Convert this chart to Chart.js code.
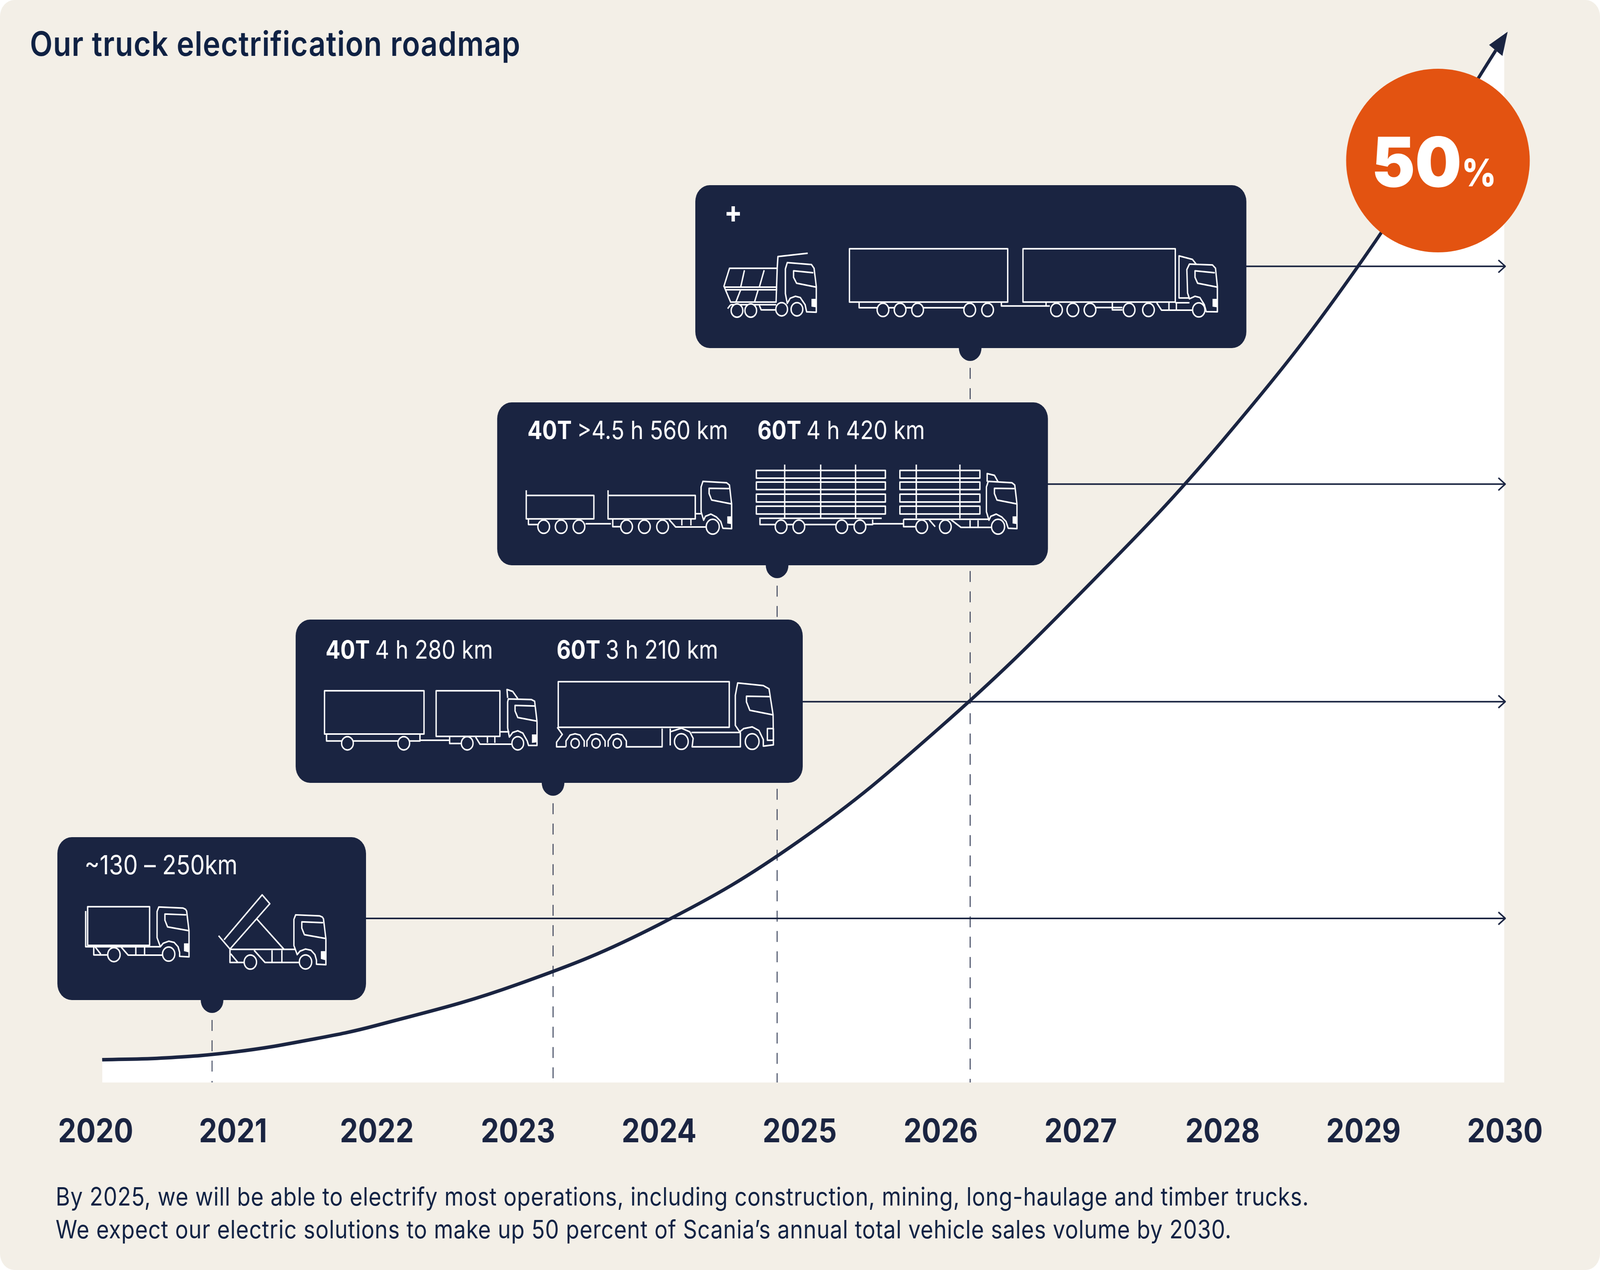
<!DOCTYPE html>
<html>
<head>
<meta charset="utf-8">
<title>Our truck electrification roadmap</title>
<script src="https://cdn.jsdelivr.net/npm/chart.js@4"></script>
<style>
  html, body { margin: 0; background: #ffffff; overflow: hidden; }
  canvas { display: block; }
</style>
</head>
<body>
<!-- drawn at the reference size and fitted to whatever window the page gets -->
<canvas id="roadmap" width="4660" height="3251" style="width:100vw;height:100vh"></canvas>
<script>
// Data
const years = [2020, 2021, 2022, 2023, 2024, 2025, 2026, 2027, 2028, 2029, 2030];
const curveYears = [2020.05, 2020.5, 2021, 2021.5, 2022, 2023, 2024, 2025, 2026, 2027, 2028, 2029, 2029.94];
const curveShare = [1.08, 1.17, 1.46, 2.0, 2.72, 4.67, 7.5, 11.5, 16.9, 23.3, 30.5, 39.15, 49.05];
const milestoneYears = [2020.83, 2023.25, 2024.84, 2026.21];
const milestoneLevels = [7.8, 18.1, 28.44, 38.79];
const badgeText = ['50', '%'];
const titleText = 'Our truck electrification roadmap';
const noteLines = [
  'By 2025, we will be able to electrify most operations, including construction, mining, long-haulage and timber trucks.',
  'We expect our electric solutions to make up 50 percent of Scania\u2019s annual total vehicle sales volume by 2030.'
];
const rangeLabels = [
  [['', '~130 \u2013 250km']],
  [['40T', '4 h 280 km'], ['60T', '3 h 210 km']],
  [['40T', '>4.5 h 560 km'], ['60T', '4 h 420 km']],
  [['+', '']]
];

// Colours
const navy = '#1a2441';
const ink = '#0f2143';
const cream = '#f3efe7';
const orange = '#e35311';
const white = '#ffffff';
const fontFamily = 'Inter, "Noto Sans", sans-serif';

// Card boxes and label anchors, in reference pixels
const cardBoxes = [
  { left: 167, top: 2143, right: 1066, bottom: 2560 },
  { left: 861, top: 1586, right: 2338, bottom: 2004 },
  { left: 1448, top: 1030, right: 3052, bottom: 1447 },
  { left: 2025, top: 474, right: 3630, bottom: 891 }
];
const labelAnchors = [
  [[246, 2238]],
  [[948, 1686], [1621, 1686]],
  [[1536, 1124], [2206, 1124]],
  [[2109, 570]]
];
const labelSizes = [67, 64, 64, 78];

const view = (ox, oy, sx, sy) => ({ ox, oy, sx, sy });
const v4 = view(150, 2120, 1.568, 2.24);
const v3 = view(840, 1580, 1.018, 3);
const v2 = view(1430, 1020, 0.9446, 3);
const v1 = view(2000, 440, 0.922, 3);

function trace(ctx, v, pts, closed, dx = 0, dy = 0) {
  ctx.beginPath();
  for (let i = 0; i < pts.length; i += 2) {
    const x = v.ox + (pts[i] + dx) / v.sx;
    const y = v.oy + (pts[i + 1] + dy) / v.sy;
    if (i === 0) ctx.moveTo(x, y); else ctx.lineTo(x, y);
  }
  if (closed) ctx.closePath();
}
function line(ctx, v, pts, dx, dy) { trace(ctx, v, pts, false, dx, dy); ctx.stroke(); }
function loop(ctx, v, pts, dx, dy) { trace(ctx, v, pts, true, dx, dy); ctx.stroke(); }
function solid(ctx, v, pts, dx, dy) { trace(ctx, v, pts, true, dx, dy); ctx.fill(); }
function box(ctx, v, l, t, r, b) { loop(ctx, v, [l, t, r, t, r, b, l, b]); }
function wheel(ctx, v, x, y, r) {
  ctx.beginPath();
  ctx.arc(v.ox + x / v.sx, v.oy + y / v.sy, r, 0, Math.PI * 2);
  ctx.fillStyle = navy;
  ctx.fill();
  ctx.stroke();
  ctx.fillStyle = white;
}

function shortCab(ctx, dx, dy) {
  loop(ctx, v4, [490, 452, 482, 478, 482, 628, 497, 680, 510, 660, 535, 648, 560, 655, 578, 680, 585, 712, 585, 735, 628, 738, 628, 590, 617, 475, 612, 465, 600, 458], dx, dy);
  line(ctx, v4, [628, 588, 530, 566, 518, 528, 518, 492, 615, 497], dx, dy);
  solid(ctx, v4, [605, 660, 625, 660, 625, 712, 605, 705], dx, dy);
  wheel(ctx, v4, 535 + dx, 722 + dy, 18);
}

function drawCard1Trucks(ctx) {
  // box truck
  box(ctx, v4, 165, 450, 448, 672);
  line(ctx, v4, [156, 475, 156, 680, 495, 680]);
  line(ctx, v4, [505, 728, 350, 728, 318, 682]);
  line(ctx, v4, [385, 682, 385, 728]);
  line(ctx, v4, [425, 682, 425, 728]);
  line(ctx, v4, [193, 682, 193, 727, 258, 727]);
  line(ctx, v4, [200, 682, 225, 722]);
  wheel(ctx, v4, 285, 725, 18);
  shortCab(ctx, 0, 0);
  // tipper
  line(ctx, v4, [815, 695, 1115, 695]);
  line(ctx, v4, [763, 617, 815, 693, 997, 433, 962, 382, 788, 640]);
  line(ctx, v4, [937, 520, 1062, 695]);
  line(ctx, v4, [815, 695, 815, 770, 882, 770]);
  line(ctx, v4, [818, 720, 850, 768]);
  line(ctx, v4, [925, 700, 975, 770, 1135, 770]);
  line(ctx, v4, [1007, 700, 1007, 770]);
  line(ctx, v4, [1052, 700, 1052, 770]);
  wheel(ctx, v4, 908, 768, 18);
  shortCab(ctx, 625, 45);
}

function drawCard2Trucks(ctx) {
  const v = v3;
  // truck and drawbar trailer
  box(ctx, v, 107, 565, 402, 897);
  box(ctx, v, 438, 565, 627, 915);
  line(ctx, v, [113, 900, 113, 950, 390, 950, 390, 900]);
  line(ctx, v, [390, 945, 478, 945]);
  line(ctx, v, [478, 918, 478, 970, 515, 970]);
  line(ctx, v, [555, 920, 568, 975, 665, 975]);
  line(ctx, v, [590, 920, 590, 965]);
  line(ctx, v, [612, 920, 612, 965]);
  line(ctx, v, [627, 880, 655, 880]);
  wheel(ctx, v, 175, 968, 17);
  wheel(ctx, v, 342, 968, 17);
  wheel(ctx, v, 530, 968, 17);
  loop(ctx, v, [652, 628, 720, 632, 730, 645, 737, 800, 737, 985, 712, 985, 708, 950, 695, 890, 680, 872, 665, 885, 655, 920, 650, 850, 650, 650]);
  line(ctx, v, [650, 620, 648, 555, 665, 570, 680, 625]);
  line(ctx, v, [730, 682, 672, 677, 672, 720, 680, 770, 737, 798]);
  solid(ctx, v, [722, 900, 738, 900, 738, 960, 722, 965]);
  wheel(ctx, v, 680, 968, 17);
  // articulated
  box(ctx, v, 800, 495, 1307, 845);
  line(ctx, v, [797, 845, 812, 900, 795, 960, 795, 995, 823, 995]);
  [850, 912, 975].forEach(x => {
    line(ctx, v, [x - 27, 995, x - 27, 950, x - 15, 905, x, 895, x + 15, 905, x + 27, 950, x + 27, 995]);
    wheel(ctx, v, x, 968, 12);
  });
  line(ctx, v, [1000, 995, 1108, 995, 1108, 855]);
  line(ctx, v, [1132, 855, 1132, 985]);
  line(ctx, v, [1132, 880, 1165, 852, 1190, 880, 1200, 930, 1197, 995, 1340, 995, 1340, 885, 1195, 885]);
  wheel(ctx, v, 1165, 955, 20);
  loop(ctx, v, [1332, 505, 1408, 525, 1425, 550, 1437, 750, 1438, 980, 1408, 990, 1408, 940, 1395, 870, 1375, 842, 1350, 855, 1338, 880, 1325, 830, 1325, 600]);
  line(ctx, v, [1427, 610, 1358, 607, 1358, 650, 1368, 715, 1437, 750]);
  loop(ctx, v, [1420, 855, 1438, 855, 1438, 945, 1420, 945]);
  wheel(ctx, v, 1375, 955, 20);
}

function longCab(ctx, dx) {
  const v = v2;
  loop(ctx, v, [583, 637, 648, 647, 656, 665, 662, 810, 662, 1000, 638, 997, 632, 945, 620, 910, 605, 888, 590, 905, 585, 935, 578, 870, 578, 680], dx);
  line(ctx, v, [655, 692, 600, 690, 600, 730, 607, 780, 662, 810], dx);
  solid(ctx, v, [650, 905, 662, 905, 662, 965, 650, 960], dx);
  wheel(ctx, v, 610 + dx, 985, 19);
}

function logRows(ctx, left, right) {
  [[553, 612], [642, 700], [735, 795], [827, 887]].forEach(r => box(ctx, v2, left, r[0], right, r[1]));
}

function drawCard3Trucks(ctx) {
  const v = v2;
  // 40T
  line(ctx, v, [97, 705, 97, 925, 283, 925, 283, 745, 97, 745]);
  line(ctx, v, [322, 705, 322, 925, 562, 925, 562, 745, 322, 745]);
  line(ctx, v, [103, 930, 103, 968, 130, 968]);
  line(ctx, v, [260, 962, 330, 962]);
  line(ctx, v, [335, 930, 335, 985, 360, 985]);
  line(ctx, v, [490, 930, 508, 987, 595, 987]);
  line(ctx, v, [525, 930, 525, 975]);
  line(ctx, v, [550, 930, 550, 975]);
  line(ctx, v, [562, 885, 580, 885]);
  [145, 193, 242, 373, 422, 472].forEach(x => wheel(ctx, v, x, 985, 17));
  longCab(ctx, 0);
  // 60T timber
  logRows(ctx, 730, 1085);
  logRows(ctx, 1125, 1345);
  [808, 907, 1003, 1170, 1290].forEach(x => line(ctx, v, [x, 508, x, 920]));
  line(ctx, v, [738, 920, 1075, 920]);
  line(ctx, v, [740, 925, 740, 968, 1050, 968, 1050, 930]);
  line(ctx, v, [1050, 962, 1135, 962]);
  line(ctx, v, [1135, 928, 1370, 928]);
  line(ctx, v, [1135, 928, 1135, 985, 1168, 985]);
  line(ctx, v, [1205, 930, 1222, 985]);
  line(ctx, v, [1265, 930, 1293, 990, 1380, 990]);
  line(ctx, v, [1318, 935, 1318, 985]);
  line(ctx, v, [1340, 935, 1340, 985]);
  line(ctx, v, [1365, 640, 1365, 577, 1385, 590, 1395, 640]);
  [798, 847, 965, 1015, 1185, 1250].forEach(x => wheel(ctx, v, x, 985, 17));
  longCab(ctx, 785);
}

function drawCard4Trucks(ctx) {
  const v = v1;
  // tipper
  line(ctx, v, [325, 625, 245, 650, 243, 740, 115, 740, 100, 878, 118, 1000, 240, 1000, 243, 740]);
  line(ctx, v, [100, 885, 243, 885]);
  line(ctx, v, [105, 905, 243, 905]);
  line(ctx, v, [155, 755, 145, 885]);
  line(ctx, v, [208, 755, 195, 885]);
  line(ctx, v, [145, 905, 132, 1000]);
  line(ctx, v, [192, 905, 182, 1000]);
  line(ctx, v, [110, 1050, 118, 1020]);
  line(ctx, v, [118, 1020, 240, 1020]);
  line(ctx, v, [195, 1025, 200, 1060, 240, 1060]);
  [[135, 1065], [172, 1065], [255, 1055], [296, 1055]].forEach(p => wheel(ctx, v, p[0], p[1], 17));
  loop(ctx, v, [270, 697, 335, 712, 342, 740, 348, 880, 348, 1078, 322, 1075, 318, 1020, 305, 965, 292, 955, 278, 970, 270, 1010, 265, 935, 265, 745]);
  line(ctx, v, [340, 775, 287, 760, 287, 810, 295, 855, 348, 885]);
  solid(ctx, v, [335, 975, 348, 975, 348, 1040, 335, 1035]);
  // long combination
  box(ctx, v, 437, 590, 862, 1000);
  box(ctx, v, 903, 590, 1312, 1000);
  line(ctx, v, [463, 1005, 463, 1043, 745, 1043]);
  line(ctx, v, [845, 1005, 845, 1030, 965, 1030, 965, 1005]);
  line(ctx, v, [1095, 1042, 1170, 1042]);
  line(ctx, v, [965, 1030, 975, 1030]);
  line(ctx, v, [1143, 1005, 1143, 1060, 1170, 1060]);
  line(ctx, v, [1262, 1005, 1275, 1062, 1358, 1062]);
  line(ctx, v, [1295, 1005, 1295, 1060]);
  line(ctx, v, [1315, 1005, 1315, 1060]);
  line(ctx, v, [1312, 1005, 1350, 1005]);
  [527, 573, 620, 760, 808, 993, 1037, 1083, 1188, 1240].forEach(x => wheel(ctx, v, x, 1060, 17));
  loop(ctx, v, [1350, 708, 1412, 715, 1420, 740, 1425, 880, 1425, 1075, 1395, 1073, 1390, 1020, 1378, 965, 1365, 955, 1350, 975, 1345, 930, 1343, 750]);
  line(ctx, v, [1418, 775, 1365, 760, 1365, 810, 1372, 855, 1425, 885]);
  line(ctx, v, [1368, 708, 1358, 672, 1322, 645, 1322, 968, 1350, 968]);
  solid(ctx, v, [1412, 975, 1425, 975, 1425, 1040, 1412, 1035]);
  wheel(ctx, v, 1375, 1060, 18);
}
const truckDrawers = [drawCard1Trucks, drawCard2Trucks, drawCard3Trucks, drawCard4Trucks];

function drawRun(ctx, parts, x, y, size) {
  ctx.font = '700 ' + size + 'px ' + fontFamily;
  ctx.fillText(parts[0], x, y);
  const cursor = x + (parts[0] ? ctx.measureText(parts[0] + ' ').width : 0);
  ctx.font = '400 ' + size + 'px ' + fontFamily;
  ctx.fillText(parts[1], cursor, y);
}

// Paints the panel behind the chart and all the annotation cards over it
const roadmapArt = {
  id: 'roadmapArt',
  beforeDraw(chart) {
    const ctx = chart.ctx;
    ctx.save();
    ctx.fillStyle = cream;
    ctx.beginPath();
    ctx.roundRect(0, 0, 4660, 3251, 42);
    ctx.fill();
    ctx.restore();
  },
  afterDatasetsDraw(chart) {
    const { ctx, canvas, scales: { x, y } } = chart;
    ctx.save();
    ctx.lineJoin = 'round';

    // small open arrowheads on the level lines
    ctx.strokeStyle = navy;
    ctx.lineWidth = 4;
    milestoneLevels.forEach(level => {
      const tipX = x.getPixelForValue(2030) + 3;
      const tipY = y.getPixelForValue(level);
      ctx.beginPath();
      ctx.moveTo(tipX - 20, tipY - 16);
      ctx.lineTo(tipX, tipY);
      ctx.lineTo(tipX - 20, tipY + 16);
      ctx.stroke();
    });

    // solid arrowhead at the end of the curve
    const n = curveYears.length - 1;
    const endX = x.getPixelForValue(curveYears[n]);
    const endY = y.getPixelForValue(curveShare[n]);
    const angle = Math.atan2(endY - y.getPixelForValue(curveShare[n - 1]), endX - x.getPixelForValue(curveYears[n - 1]));
    const tipX = endX + 59 * Math.cos(angle);
    const tipY = endY + 59 * Math.sin(angle);
    ctx.fillStyle = navy;
    ctx.beginPath();
    ctx.moveTo(tipX, tipY);
    ctx.lineTo(endX + 24 * Math.sin(angle), endY - 24 * Math.cos(angle));
    ctx.lineTo(endX - 24 * Math.sin(angle), endY + 24 * Math.cos(angle));
    ctx.closePath();
    ctx.fill();

    // cards with the nub that sits on the drop line
    cardBoxes.forEach((card, i) => {
      ctx.fillStyle = navy;
      ctx.beginPath();
      ctx.arc(x.getPixelForValue(milestoneYears[i]), card.bottom, 33, 0, Math.PI * 2);
      ctx.fill();
      ctx.beginPath();
      ctx.roundRect(card.left, card.top, card.right - card.left, card.bottom - card.top, 42);
      ctx.fill();

      ctx.fillStyle = white;
      ctx.strokeStyle = white;
      ctx.lineWidth = 4;
      truckDrawers[i](ctx);
      ctx.textAlign = 'left';
      ctx.textBaseline = 'alphabetic';
      ctx.fillStyle = white;
      rangeLabels[i].forEach((parts, j) => {
        drawRun(ctx, parts, labelAnchors[i][j][0], labelAnchors[i][j][1], labelSizes[i]);
      });
    });

    // 50% badge, kept round on screen when the window squeezes the canvas
    const squeeze = canvas.clientWidth / canvas.width;
    const badgeRadius = squeeze < 1 ? 235 : 251;
    ctx.fillStyle = orange;
    ctx.beginPath();
    ctx.ellipse(4188, 411, badgeRadius / squeeze, badgeRadius, 0, 0, Math.PI * 2);
    ctx.fill();
    ctx.fillStyle = white;
    ctx.save();
    ctx.translate(3995, 478);
    ctx.scale(1.08, 1);
    ctx.font = '900 176px ' + fontFamily;
    ctx.fillText(badgeText[0], 0, 0);
    ctx.restore();
    ctx.font = '800 98px ' + fontFamily;
    ctx.fillText(badgeText[1], 4257, 477);

    // title and note
    ctx.fillStyle = ink;
    ctx.font = '600 86px ' + fontFamily;
    ctx.letterSpacing = '1.5px';
    ctx.fillText(titleText, 87, 143);
    ctx.font = '400 64px ' + fontFamily;
    ctx.letterSpacing = '1px';
    ctx.fillText(noteLines[0], 162, 3086);
    ctx.fillText(noteLines[1], 162, 3170);
    ctx.letterSpacing = '0px';
    ctx.restore();
  }
};

const curvePoints = curveYears.map((year, i) => ({ x: year, y: curveShare[i] }));

new Chart(document.getElementById('roadmap').getContext('2d'), {
  type: 'line',
  plugins: [roadmapArt],
  data: {
    datasets: [
      {
        data: curvePoints,
        borderColor: navy,
        borderWidth: 9,
        tension: 0.4,
        pointRadius: 0,
        fill: false
      },
      ...milestoneLevels.map((level, i) => ({
        data: [{ x: milestoneYears[i], y: level }, { x: 2030, y: level }],
        borderColor: navy,
        borderWidth: 4,
        pointRadius: 0,
        fill: false
      })),
      ...milestoneLevels.map((level, i) => ({
        data: [{ x: milestoneYears[i], y: level }, { x: milestoneYears[i], y: 0 }],
        borderColor: 'rgba(26, 36, 65, 0.8)',
        borderWidth: 3,
        borderDash: [28, 24],
        pointRadius: 0,
        fill: false
      })),
      {
        // white area under the curve, carried on to the 2030 edge
        data: [...curvePoints, { x: 2030, y: 50 }],
        borderWidth: 0,
        borderColor: 'transparent',
        backgroundColor: white,
        tension: 0.4,
        pointRadius: 0,
        fill: 'start'
      }
    ]
  },
  options: {
    responsive: false,
    devicePixelRatio: 1,
    animation: false,
    layout: { padding: { left: 277, right: 279, top: 78, bottom: 0 } },
    plugins: { legend: { display: false }, tooltip: { enabled: false }, title: { display: false } },
    scales: {
      x: {
        type: 'linear',
        min: years[0],
        max: years[years.length - 1],
        afterFit(scale) { scale.height = 480; },
        grid: { display: false, drawTicks: true, tickLength: 69 },
        border: { display: false },
        ticks: {
          stepSize: 1,
          autoSkip: false,
          maxRotation: 0,
          align: 'start',
          labelOffset: -108,
          padding: 8,
          color: navy,
          font: { family: fontFamily, size: 84, weight: '700' },
          callback: value => String(value)
        }
      },
      y: { display: false, min: 0, max: 50 }
    }
  }
});
</script>
</body>
</html>
